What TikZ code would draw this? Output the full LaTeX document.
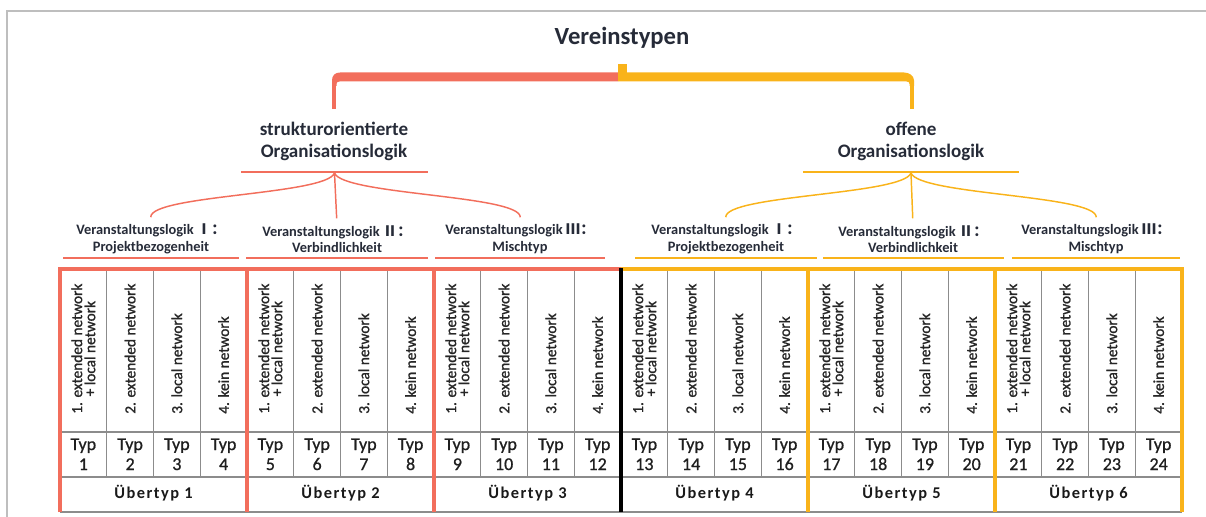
\documentclass[tikz,border=0pt]{standalone}
\usepackage{fontspec}
\setmainfont{Carlito}
\newfontfamily\cjk{Noto Sans CJK SC}
\usetikzlibrary{positioning,calc}
\definecolor{coral}{HTML}{F26E5C}
\definecolor{amber}{HTML}{F9B31A}
\definecolor{ink}{HTML}{262B38}
\definecolor{framegray}{HTML}{BEBEBE}
\definecolor{gridgray}{HTML}{8C8C8C}

\begin{document}
\begin{tikzpicture}[x=0.75pt,y=-0.75pt,
head/.style={font=\bfseries\fontsize{18.5}{22}\selectfont,text=ink,inner sep=0pt},
orgtxt/.style={font=\bfseries\fontsize{14.3}{16}\selectfont,text=ink,align=center,inner sep=0pt},
logtxt/.style={font=\bfseries\fontsize{10.8}{12.4}\selectfont,text=ink,align=center,inner sep=0pt},
nettxt/.style={font={\fontsize{11.5}{9.8}\selectfont\addfontfeatures{FakeBold=1.2}},text=black!85,align=center,rotate=90,anchor=west,inner sep=0pt},
typtxt/.style={font={\fontsize{13.5}{15}\selectfont\addfontfeatures{FakeBold=0.8}},text=black!88,align=center,inner sep=0pt},
uetxt/.style={font={\bfseries\fontsize{12.3}{14}\selectfont\addfontfeatures{LetterSpace=9}},text=black!90,anchor=base,inner sep=0pt},
gridline/.style={draw=gridgray,line width=0.9pt},
rbox/.style={draw=coral,line width=2.6pt},
obox/.style={draw=amber,line width=2.6pt},
hline/.style={line width=1.5pt},
branch/.style={line width=1.1pt,shorten >=5pt}]
\useasboundingbox (0,0) rectangle (1206,517);
\draw[framegray,line width=1.6pt] (7.3,517) -- (7.3,11) -- (1206,11);

\node[head,anchor=base] (title) at (622,45) {Vereinstypen};
\node[orgtxt] (orgS) at (334,141.5) {strukturorientierte\\Organisationslogik};
\node[orgtxt] (orgO) at (911,141.5) {offene\\Organisationslogik};
\draw[coral,hline] (241,172) -- (428,172);
\draw[amber,hline] (803,172) -- (1019,172);

\fill[coral] (618,72.5) -- (340,72.5) .. controls (335,72.5) and (332,75.5) .. (332,80.5) -- (332,86) -- (336.5,86) -- (336.5,84) .. controls (336.5,82.3) and (337.5,81.5) .. (339.5,81.5) -- (618,81.5) -- cycle;
\fill[amber] (618,72.5) -- (904,72.5) .. controls (909,72.5) and (914,75.5) .. (914,80.5) -- (914,86) -- (909.5,86) -- (909.5,84) .. controls (909.5,82.3) and (908.5,81.5) .. (906.5,81.5) -- (618,81.5) -- cycle;
\fill[amber] (618,64) rectangle (627,73);
\coordinate (dropS) at (334.25,84);
\coordinate (dropO) at (911.75,84);
\draw[coral,line width=3.3pt,shorten >=10pt] (dropS) -- (dropS |- orgS.north);
\draw[amber,line width=3.3pt,shorten >=10pt] (dropO) -- (dropO |- orgO.north);

\foreach \i/\x/\num/\sub in {1/151/Ⅰ/Projektbezogenheit,2/337/Ⅱ/Verbindlichkeit,3/520/Ⅲ/Mischtyp,4/726/Ⅰ/Projektbezogenheit,5/913/Ⅱ/Verbindlichkeit,6/1096/Ⅲ/Mischtyp}
  \node[logtxt] (vl\i) at (\x,239) {Veranstaltungslogik {\cjk \num：}\\\sub};
\foreach \a/\b/\c in {63/239/coral,246/428/coral,435/605/coral,635/817/amber,823/1004/amber,1012/1180/amber}
  \draw[\c,hline] (\a,258) -- (\b,258);

\coordinate (hubS) at (334.5,173);
\coordinate (hubO) at (911,173);
\draw[coral,branch] (hubS) .. controls +(-8,22) and +(-1,-29) .. (vl1.north);
\draw[coral,branch] (hubS) -- (vl2.north);
\draw[coral,branch] (hubS) .. controls +(8,22) and +(1,-29) .. (vl3.north);
\draw[amber,branch] (hubO) .. controls +(-8,22) and +(-1,-29) .. (vl4.north);
\draw[amber,branch] (hubO) -- (vl5.north);
\draw[amber,branch] (hubO) .. controls +(8,22) and +(1,-29) .. (vl6.north);

\foreach \grp in {0,...,5}{
  \foreach \pos/\lbl in {1/{1. extended network\\+ local network},2/{2. extended network},3/{3. local network},4/{4. kein network}}{
    \pgfmathtruncatemacro\idx{4*\grp+\pos}
    \pgfmathsetmacro\xc{60+46.75*(\idx-0.5)}
    \node[nettxt] (net\idx) at (\xc,414) {\lbl};
    \node[typtxt] (typ\idx) at (\xc,454.3) {Typ\\\idx};
  }
  \pgfmathtruncatemacro\ut{\grp+1}
  \pgfmathsetmacro\xu{60+187*(\grp+0.5)}
  \node[uetxt] (ue\ut) at (\xu,498.5) {Übertyp \ut};
}

\foreach \c in {1,2,3,5,6,7,9,10,11,13,14,15,17,18,19,21,22,23}
  \draw[gridline] ({60+46.75*\c},269) -- ({60+46.75*\c},477);
\draw[gridline] (60,432) -- (1182,432) (60,477) -- (1182,477) (60,512) -- (1182,512);
\draw[rbox] (60,512) -- (60,269) -- (621,269);
\draw[rbox] (247,269) -- (247,512);
\draw[rbox] (434,269) -- (434,512);
\draw[obox] (621,269) -- (1182,269) -- (1182,512);
\draw[obox] (808,269) -- (808,512);
\draw[obox] (995,269) -- (995,512);
\draw[line width=3.6pt] (621,267.5) -- (621,512);
\end{tikzpicture}
\end{document}
